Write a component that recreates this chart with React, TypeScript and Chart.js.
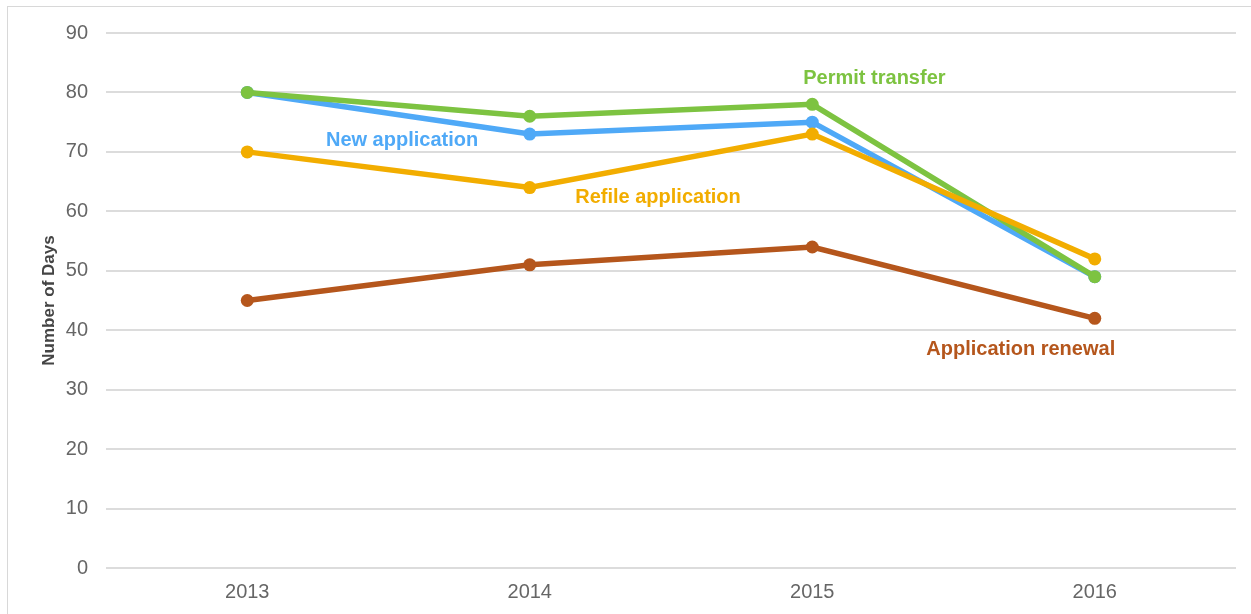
import React, { useEffect, useRef } from "react";
import { Chart, registerables } from "chart.js";

Chart.register(...registerables);

const years = ["2013", "2014", "2015", "2016"];
const newApplication = [80, 73, 75, 49];
const permitTransfer = [80, 76, 78, 49];
const refileApplication = [70, 64, 73, 52];
const applicationRenewal = [45, 51, 54, 42];
const yTicks = [0, 10, 20, 30, 40, 50, 60, 70, 80, 90];

const BLUE = "#4FA9F7";
const GREEN = "#7DC341";
const ORANGE = "#F2AD00";
const BROWN = "#B5561C";

// Series name labels anchored in data coordinates (category index, value)
const seriesLabels = [
  { text: "New application", x: 0.548, y: 72.0, color: BLUE },
  { text: "Permit transfer", x: 2.22, y: 82.3, color: GREEN },
  { text: "Refile application", x: 1.454, y: 62.4, color: ORANGE },
  { text: "Application renewal", x: 2.738, y: 36.8, color: BROWN },
];

const FONT = "'Liberation Sans', Arial, Helvetica, sans-serif";

const labelPlugin = {
  id: "seriesLabels",
  afterDatasetsDraw(chart: any) {
    const { ctx, scales } = chart;
    const xs = scales.x;
    const ys = scales.y;
    ctx.save();
    ctx.font = `bold 20px ${FONT}`;
    ctx.textAlign = "center";
    ctx.textBaseline = "middle";
    for (const l of seriesLabels) {
      const i0 = Math.floor(l.x);
      const i1 = Math.min(i0 + 1, years.length - 1);
      const p0 = xs.getPixelForValue(i0);
      const p1 = xs.getPixelForValue(i1);
      const px = p0 + (p1 - p0) * (l.x - i0);
      const py = ys.getPixelForValue(l.y);
      ctx.fillStyle = l.color;
      ctx.fillText(l.text, px, py);
    }
    ctx.restore();
  },
};

function ds(label: string, data: number[], color: string) {
  return {
    label,
    data,
    borderColor: color,
    backgroundColor: color,
    pointBackgroundColor: color,
    pointBorderColor: color,
    borderWidth: 5.5,
    pointRadius: 6.5,
    pointHoverRadius: 6.5,
    pointBorderWidth: 0,
    tension: 0,
  };
}

export default function App() {
  const ref = useRef<HTMLCanvasElement>(null);

  useEffect(() => {
    if (!ref.current) return;
    Chart.defaults.font.family = FONT;
    const chart = new Chart(ref.current, {
      type: "line",
      data: {
        labels: years,
        datasets: [
          ds("Refile application", refileApplication, ORANGE),
          ds("Permit transfer", permitTransfer, GREEN),
          ds("New application", newApplication, BLUE),
          ds("Application renewal", applicationRenewal, BROWN),
        ],
      },
      options: {
        responsive: false,
        animation: false,
        devicePixelRatio: 1,
        layout: { padding: { top: 33, right: 15, left: 0, bottom: 0 } },
        plugins: {
          legend: { display: false },
          tooltip: { enabled: false },
        },
        scales: {
          x: {
            offset: true,
            grid: { display: false, drawTicks: false },
            border: { display: false },
            ticks: {
              color: "#666",
              font: { size: 20 },
              padding: 12,
              maxRotation: 0,
            },
            afterFit(scale: any) {
              scale.height = 46;
            },
          },
          y: {
            min: 0,
            max: 90,
            afterBuildTicks(scale: any) {
              scale.ticks = yTicks.map((v) => ({ value: v }));
            },
            grid: { color: "#dcdcdc", lineWidth: 2, drawTicks: false },
            border: { display: false },
            ticks: {
              color: "#666",
              font: { size: 20 },
              padding: 18,
            },
            title: {
              display: true,
              text: "Number of Days",
              color: "#444",
              font: { size: 17, weight: "bold" },
              padding: { top: 39, bottom: 0 },
            },
            afterFit(scale: any) {
              scale.width = 106;
            },
          },
        },
      },
      plugins: [labelPlugin],
    });
    return () => chart.destroy();
  }, []);

  return (
    <div style={{ position: "fixed", left: 0, top: 0, width: 1251, height: 614, background: "#fff", overflow: "hidden" }}>
      <div
        style={{
          position: "absolute",
          left: 7,
          top: 6,
          width: 1300,
          height: 700,
          borderLeft: "1.5px solid #d8d8d8",
          borderTop: "1.5px solid #d8d8d8",
        }}
      />
      <canvas ref={ref} width={1251} height={614} style={{ position: "absolute", left: 0, top: 0, display: "block" }} />
    </div>
  );
}
